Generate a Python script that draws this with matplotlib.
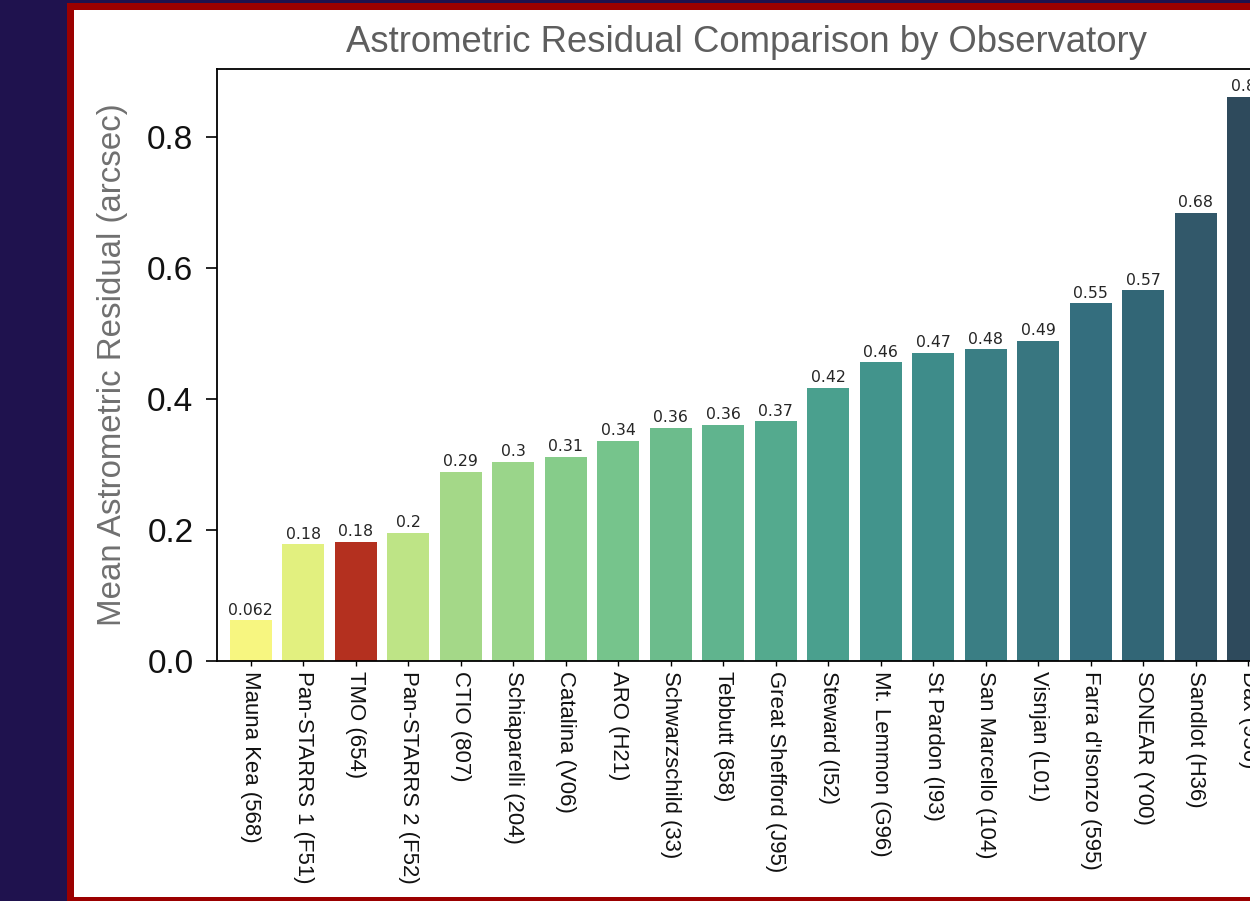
import numpy as np
import matplotlib
matplotlib.use("Agg")
import matplotlib.pyplot as plt
from matplotlib.patches import Rectangle

# donnees
observatoires = ["Mauna Kea (568)", "Pan-STARRS 1 (F51)", "TMO (654)", "Pan-STARRS 2 (F52)",
                 "CTIO (807)", "Schiaparelli (204)", "Catalina (V06)", "ARO (H21)",
                 "Schwarzschild (33)", "Tebbutt (858)", "Great Shefford (J95)", "Steward (I52)",
                 "Mt. Lemmon (G96)", "St Pardon (I93)", "San Marcello (104)", "Visnjan (L01)",
                 "Farra d'Isonzo (595)", "SONEAR (Y00)", "Sandlot (H36)", "Dax (956)"]
residus = [0.062, 0.178, 0.182, 0.196, 0.289, 0.304, 0.312, 0.336, 0.356, 0.360,
           0.366, 0.417, 0.456, 0.471, 0.476, 0.489, 0.546, 0.566, 0.684, 0.861]
yticks = [0.0, 0.2, 0.4, 0.6, 0.8]

# couleurs (degrade + barre TMO en rouge)
palette = ["#f7f680", "#e2f07f", "#d0ea82", "#bee486", "#a4d888", "#9ad58a", "#86cc8a",
           "#76c48c", "#6cbc8c", "#60b48e", "#54aa8e", "#4aa08e", "#42948c", "#3e8c8a",
           "#3a7e84", "#387680", "#346e7e", "#326676", "#32586a", "#2e4a5c"]
highlight = "TMO (654)"
couleurs = ["#b4301f" if o == highlight else c for o, c in zip(observatoires, palette)]

fig = plt.figure(figsize=(12.5, 9.01), dpi=100)
fig.patch.set_facecolor("#1f124e")

# cadre rouge + fond blanc
W, H = 1250, 901
fig.patches.append(Rectangle((67 / W, 0), 1.1, (H - 3) / H, transform=fig.transFigure,
                             facecolor="#9b0000", edgecolor="none", zorder=-10))
fig.patches.append(Rectangle((74 / W, 4 / H), 1.1, (H - 14) / H, transform=fig.transFigure,
                             facecolor="white", edgecolor="none", zorder=-9))

ax = fig.add_axes([217 / W, (H - 661) / H, 1065 / W, 592 / H])
ax.set_zorder(1)
ax.patch.set_alpha(0)
x = np.arange(len(observatoires))
bars = ax.bar(x, residus, width=0.8, color=couleurs)
ax.bar_label(bars, labels=[f"{v:.2g}" for v in residus], padding=2,
             fontsize=11.3, color="#262626", family="DejaVu Sans")

ax.set_xlim(-0.64, len(observatoires) - 0.36)
ax.set_ylim(0, 0.904)
ax.set_yticks(yticks)
ax.set_yticklabels([f"{t:.1f}" for t in yticks], fontsize=24, family="Liberation Sans",
                   color="#111111")
ax.set_xticks(x)
ax.set_xticklabels(observatoires, rotation=270, ha="center", va="top",
                   fontsize=15.9, family="Liberation Sans", color="#111111")
ax.tick_params(axis="y", length=8, width=1.2, pad=9)
ax.tick_params(axis="x", length=3.5, width=1.0, pad=4)
for s in ax.spines.values():
    s.set_linewidth(1.3)

ax.set_ylabel("Mean Astrometric Residual (arcsec)", fontsize=23.8, color="#707070",
              family="Liberation Sans")
ax.yaxis.set_label_coords(-0.0836, 0.5)

fig.text(746 / W, (H - 52) / H, "Astrometric Residual Comparison by Observatory",
         ha="center", va="baseline", fontsize=26.3, color="#5e5e5e", family="Liberation Sans")

fig.savefig("out.png", dpi=100, facecolor=fig.get_facecolor())
